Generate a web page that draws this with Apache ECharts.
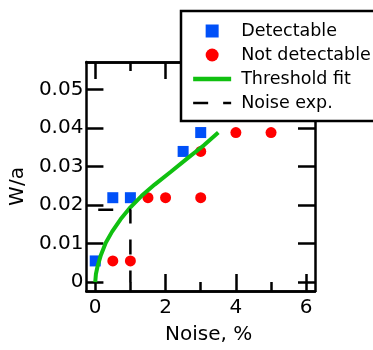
<!DOCTYPE html>
<html>
<head>
<meta charset="utf-8">
<script src="https://cdn.jsdelivr.net/npm/echarts@6/dist/echarts.min.js"></script>
<style>
html,body{margin:0;padding:0;background:#fff;overflow:hidden;}
#chart{width:400px;height:350px;}
</style>
</head>
<body>
<div id="chart"></div>
<script>
// ---- data ----
const detectableX = [0, 0.5, 1, 2.5, 3];
const detectableY = [0.0055, 0.0219, 0.0219, 0.0339, 0.0388];
const notDetectableX = [0.5, 1, 1.5, 2, 3, 3, 4, 5];
const notDetectableY = [0.0055, 0.0055, 0.0219, 0.0219, 0.0219, 0.0339, 0.0388, 0.0388];
const fitX = [0, 0.02, 0.064, 0.16, 0.30, 0.48, 0.72, 1.0, 1.32, 1.69, 2.16, 2.62, 3.09, 3.5];
const fitY = [0, 0.0021, 0.0040, 0.0070, 0.0102, 0.0131, 0.0163, 0.0194, 0.0224, 0.0253, 0.0287, 0.0321, 0.0355, 0.0388];
const noiseX = [0, 1, 1];
const noiseY = [0.0188, 0.0188, 0];
const xMajorTicks = [0, 2, 4, 6];
const xMinorTicks = [1, 3, 5];
const yTicks = [0, 0.01, 0.02, 0.03, 0.04, 0.05];
const yTickLabels = ['0', '0.01', '0.02', '0.03', '0.04', '0.05'];
const seriesNames = ['Detectable', 'Not detectable', 'Threshold fit', 'Noise exp.'];

const zip = (xs, ys) => xs.map((x, i) => [x, ys[i]]);

const FONT = 'DejaVu Sans';
const AX = { color: '#000', width: 2.5 };
const xMin = -0.25, xMax = 6.25, yMin = -0.0023, yMax = 0.0571;
const HIDDEN = { color: 'rgba(0,0,0,0)', borderWidth: 0, opacity: 0 };
const SQUARE = 'path://M0,0L10,0L10,10L0,10Z';

function xAxisDef(pos, ticks, len, labels, extra) {
  return Object.assign({
    type: 'value', position: pos, min: xMin, max: xMax,
    axisLine: { show: true, onZero: false, lineStyle: AX },
    axisTick: { show: true, inside: true, length: len, customValues: ticks, lineStyle: AX },
    axisLabel: labels ? { show: true, customValues: ticks, margin: 7, color: '#000', fontSize: 20, fontFamily: FONT } : { show: false },
    splitLine: { show: false }
  }, extra || {});
}
function yAxisDef(pos, labels, extra) {
  return Object.assign({
    type: 'value', position: pos, min: yMin, max: yMax,
    axisLine: { show: true, onZero: false, lineStyle: AX },
    axisTick: { show: true, inside: true, length: 17, customValues: yTicks, lineStyle: AX },
    axisLabel: labels ? {
      show: true, customValues: yTicks, margin: 3, color: '#000', fontSize: 20, fontFamily: FONT,
      padding: [6, 0, 0, 0],
      formatter: v => { const i = yTicks.findIndex(t => Math.abs(t - v) < 1e-9); return i >= 0 ? yTickLabels[i] : ''; }
    } : { show: false },
    splitLine: { show: false }
  }, extra || {});
}

const chart = echarts.init(document.getElementById('chart'));
chart.setOption({
  animation: false,
  backgroundColor: '#fff',
  grid: { left: 82, top: 62, right: 85, bottom: 55, containLabel: false },
  xAxis: [
    xAxisDef('bottom', xMajorTicks, 17, true, {
      name: 'Noise, %', nameLocation: 'middle', nameGap: 34,
      nameTextStyle: { color: '#000', fontSize: 20, fontFamily: FONT, padding: [0, 0, 0, 16] }
    }),
    xAxisDef('bottom', xMinorTicks, 9, false),
    xAxisDef('top', xMajorTicks, 17, false),
    xAxisDef('top', xMinorTicks, 9, false)
  ],
  yAxis: [
    yAxisDef('left', true, {
      name: 'W/a', nameLocation: 'middle', nameGap: 53, nameRotate: 90,
      nameTextStyle: { color: '#000', fontSize: 20, fontFamily: FONT, padding: [0, 20, 0, 0] }
    }),
    yAxisDef('right', false)
  ],
  legend: {
    orient: 'vertical', left: 181, top: 11,
    padding: [8, 30, 6, 10], itemGap: 0, itemWidth: 38, itemHeight: 13,
    symbolKeepAspect: true,
    borderColor: '#000', borderWidth: 2.5, backgroundColor: '#fff', borderRadius: 0,
    textStyle: { color: '#000', fontSize: 17.5, fontFamily: FONT, lineHeight: 24, padding: [0, 0, 0, 5] },
    data: [
      { name: seriesNames[0], icon: SQUARE, symbolKeepAspect: true },
      { name: seriesNames[1], icon: 'circle', symbolKeepAspect: true },
      { name: seriesNames[2], itemStyle: HIDDEN, lineStyle: { width: 4.3, color: '#10c010' } },
      { name: seriesNames[3], itemStyle: HIDDEN, lineStyle: { width: 2.7, type: [15, 15], dashOffset: 0 } }
    ]
  },
  series: [
    { name: seriesNames[0], type: 'scatter', symbol: 'rect', symbolSize: 11,
      itemStyle: { color: '#0050f8', opacity: 1 }, data: zip(detectableX, detectableY), z: 2 },
    { name: seriesNames[1], type: 'scatter', symbol: 'circle', symbolSize: 11,
      itemStyle: { color: '#ff0000', opacity: 1 }, data: zip(notDetectableX, notDetectableY), z: 2 },
    { name: seriesNames[2], type: 'line', symbol: 'none',
      lineStyle: { color: '#10c010', width: 4 }, itemStyle: { color: '#10c010' },
      data: zip(fitX, fitY), z: 3 },
    { name: seriesNames[3], type: 'line', symbol: 'none',
      lineStyle: { color: '#000', width: 2.5, type: [15, 16], dashOffset: 28 }, itemStyle: { color: '#000' },
      data: zip(noiseX, noiseY), z: 3 }
  ]
});
</script>
</body>
</html>
